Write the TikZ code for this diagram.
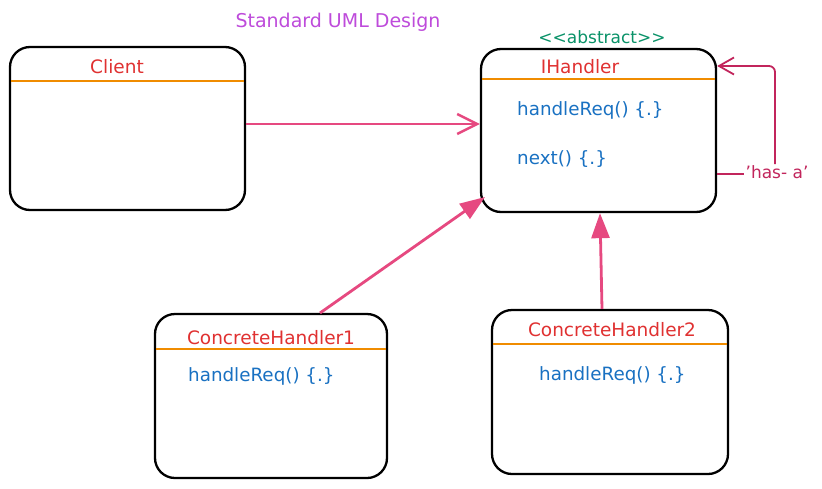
\documentclass[tikz,border=0pt]{standalone}
\usepackage{fontspec}
\setmainfont{DejaVu Sans}
\usetikzlibrary{arrows.meta,positioning}
\definecolor{cpink}{HTML}{E64980}
\definecolor{cdpink}{HTML}{C2255C}
\definecolor{cred}{HTML}{E03131}
\definecolor{cblue}{HTML}{1971C2}
\definecolor{cgreen}{HTML}{099268}
\definecolor{cpurple}{HTML}{BE4BDB}
\definecolor{corange}{HTML}{F08C00}
\tikzset{
  classbox/.style={draw=black,line width=2.3pt,rounded corners=20pt,fill=white,inner sep=0pt},
  divider/.style={draw=corange,line width=2pt},
  titletxt/.style={text=cred,font=\fontsize{18.5}{20}\selectfont,inner sep=0pt},
  methtxt/.style={text=cblue,font=\fontsize{18.3}{21}\selectfont,inner sep=0pt,anchor=west},
  conn/.style={draw=cpink,line width=2.8pt},
  openhead/.style={-{Straight Barb[length=20pt,width=20pt,line width=2.4pt]}},
  filledhead/.style={-{Triangle[length=25pt,width=18pt]}},
}
\begin{document}
\begin{tikzpicture}[x=1pt,y=-1pt]
\useasboundingbox (0,0) rectangle (822,488);
\fill[white] (0,0) rectangle (822,488);

% title
\node[text=cpurple,font=\fontsize{19}{21}\selectfont,inner sep=0pt] (title) at (338,22) {Standard UML Design};

% Client box
\node[classbox,minimum width=235pt,minimum height=163pt] (client) at (127.5,128.5) {};
\draw[divider] (11,81) -- (244,81);
\node[titletxt] (clientT) at (117,67) {Client};

% IHandler box
\node[classbox,minimum width=235pt,minimum height=163pt] (ih) at (598.5,130.5) {};
\draw[divider] (482,79) -- (715,79);
\node[titletxt] (ihT) at (580,67) {IHandler};
\node[text=cgreen,font=\fontsize{17}{19}\selectfont,inner sep=0pt] (abs) at (602,37) {<{}<abstract>{}>};
\node[methtxt] (ihM1) at (517,110) {handleReq() \{.\}};
\node[methtxt] (ihM2) at (517,159) {next() \{.\}};

% CH1
\node[classbox,minimum width=232pt,minimum height=164pt] (ch1) at (271,396) {};
\draw[divider] (156,349) -- (386,349);
\node[titletxt] (ch1T) at (271,338) {ConcreteHandler1};
\node[methtxt] (ch1M) at (188,376) {handleReq() \{.\}};

% CH2
\node[classbox,minimum width=236pt,minimum height=164pt] (ch2) at (610,392) {};
\draw[divider] (493,344) -- (727,344);
\node[titletxt] (ch2T) at (612,330) {ConcreteHandler2};
\node[methtxt] (ch2M) at (539,375) {handleReq() \{.\}};

% connectors
\draw[conn,openhead] (client.east |- 0,124) -- (ih.west |- 0,124);
\coordinate (c1s) at (320,313);
\coordinate (c1e) at (485,197);
\draw[conn,filledhead] (c1s) -- (c1e);
\draw[conn,filledhead] (ch2.north -| 602,0) -- (ih.south -| 600,0);

% has-a
\node[text=cdpink,font=\fontsize{17}{19}\selectfont,inner sep=1pt] (hasa) at (777,172) {'has- a'};
\coordinate (hup) at (775,66);
\draw[draw=cdpink,line width=1.8pt] (ih.east |- 0,174) -- (hasa.west |- 0,174);
\draw[draw=cdpink,line width=1.8pt,rounded corners=6pt,-{Straight Barb[length=15pt,width=17pt,line width=1.8pt]}]
  (hasa.north -| hup) -- (hup) -- (ih.east |- hup);
\end{tikzpicture}
\end{document}
